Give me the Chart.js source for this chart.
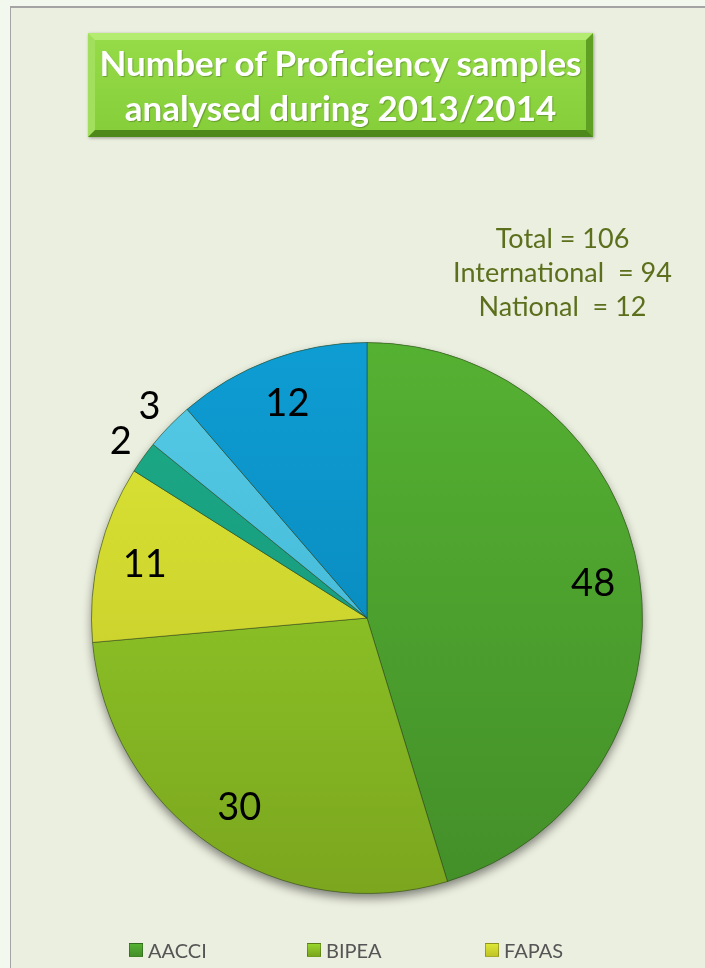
<!DOCTYPE html>
<html>
<head>
<meta charset="utf-8">
<script src="https://cdn.jsdelivr.net/npm/chart.js@4.4.0/dist/chart.umd.min.js"></script>
<style>
  html, body { margin: 0; padding: 0; width: 705px; height: 968px; overflow: hidden; background: #f3f8ee; font-family: Lato, "Open Sans", sans-serif; }
  #panel { position: absolute; left: 10px; top: 6px; width: 720px; height: 990px; background: #ebefdf; border-left: 1px solid #a4a4a4; border-top: 2px solid #a4a4a4; }
  #wrap { position: absolute; left: 0; top: 0; width: 705px; height: 968px; }
  #titlebox {
    position: absolute; left: 88px; top: 33px; width: 505px; height: 104px; box-sizing: border-box;
    background: linear-gradient(#95db48, #86cf3a);
    border-style: solid; border-width: 7px;
    border-color: #b4ec72 #5f9f22 #4d881a #a2df5c;
    box-shadow: 1px 1px 3px rgba(0,0,0,0.35);
    color: #fff; font-weight: bold; font-size: 35px; line-height: 45px; text-align: center;
    padding-top: 0px; white-space: nowrap;
    text-shadow: 1px 1px 1px rgba(0,0,0,0.25);
  }
  #note { position: absolute; left: 440px; top: 221px; width: 245px; text-align: center; color: #5c6f1d; font-size: 27px; line-height: 34px; white-space: pre; }
  #legend { position: absolute; left: 129px; top: 938px; width: 540px; display: flex; flex-wrap: wrap; }
  .item { width: 178px; height: 24px; display: flex; align-items: center; color: #555; font-size: 20px; margin-bottom: 20px; }
  .box { width: 14px; height: 14px; margin-right: 5px; box-sizing: border-box; border: 1px solid rgba(0,0,0,0.25); }
</style>
</head>
<body>
<div id="panel"></div>
<div id="wrap"><canvas id="myChart" width="705" height="968"></canvas></div>
<div id="titlebox">Number of Proficiency samples<br>analysed during 2013/2014</div>
<div id="note">Total = 106
International  = 94
National  = 12</div>
<div id="legend"></div>
<script>
// slices in drawing order, clockwise from 12 o'clock
const providers = ['AACCI', 'BIPEA', 'FAPAS', 'Provider D', 'Provider E', 'National'];
const samples = [48, 30, 11, 2, 3, 12];
const topColors = ['#55b132', '#98d62c', '#dde736', '#1dab86', '#55cbe6', '#0e9dd3'];
const bottomColors = ['#438f29', '#7ba61e', '#c0c426', '#12917a', '#3aafd0', '#067fb1'];

function sliceFill(ctx) {
  const chart = ctx.chart;
  const area = chart.chartArea;
  if (!area) return topColors[ctx.dataIndex];
  const g = chart.ctx.createLinearGradient(0, area.top, 0, area.bottom);
  g.addColorStop(0, topColors[ctx.dataIndex]);
  g.addColorStop(1, bottomColors[ctx.dataIndex]);
  return g;
}

// soft shadow under the pie
const pieShadow = {
  id: 'pieShadow',
  beforeDatasetsDraw(chart) {
    const arc = chart.getDatasetMeta(0).data[0];
    if (!arc) return;
    const c = chart.ctx;
    c.save();
    c.shadowColor = 'rgba(0,0,0,0.45)';
    c.shadowBlur = 10;
    c.shadowOffsetY = 5;
    c.beginPath();
    c.arc(arc.x, arc.y, arc.outerRadius, 0, Math.PI * 2);
    c.fillStyle = '#6a8a30';
    c.fill();
    c.restore();
  }
};

// value labels: inside big slices, just outside small ones
const sliceLabels = {
  id: 'sliceLabels',
  afterDatasetsDraw(chart) {
    const c = chart.ctx;
    const meta = chart.getDatasetMeta(0);
    c.save();
    c.fillStyle = '#000';
    c.font = '38px Lato, "Open Sans", sans-serif';
    c.textAlign = 'center';
    c.textBaseline = 'middle';
    meta.data.forEach((arc, i) => {
      const p = arc.getProps(['x', 'y', 'startAngle', 'endAngle', 'outerRadius'], true);
      const mid = (p.startAngle + p.endAngle) / 2;
      const r = samples[i] < 5 ? p.outerRadius * 1.1 : p.outerRadius * 0.83;
      c.fillText(String(samples[i]), p.x + Math.cos(mid) * r, p.y + Math.sin(mid) * r);
    });
    c.restore();
  }
};

let myChart = document.getElementById('myChart').getContext('2d');

let proficiencyChart = new Chart(myChart, {
  type: 'pie',
  data: {
    labels: providers,
    datasets: [{
      data: samples,
      backgroundColor: sliceFill,
      borderColor: 'rgba(40,60,30,0.5)',
      borderWidth: 1
    }]
  },
  options: {
    responsive: false,
    animation: false,
    layout: { padding: { left: 91, right: 62, top: 342, bottom: 74 } },
    plugins: {
      legend: { display: false },
      tooltip: { enabled: false }
    }
  },
  plugins: [pieShadow, sliceLabels]
});

// html legend built from the chart's own legend items
const legendEl = document.getElementById('legend');
proficiencyChart.options.plugins.legend.labels.generateLabels(proficiencyChart).forEach((item, i) => {
  const div = document.createElement('div');
  div.className = 'item';
  const box = document.createElement('span');
  box.className = 'box';
  box.style.background = 'linear-gradient(' + topColors[i] + ', ' + bottomColors[i] + ')';
  div.appendChild(box);
  div.appendChild(document.createTextNode(item.text));
  legendEl.appendChild(div);
});
</script>
</body>
</html>
